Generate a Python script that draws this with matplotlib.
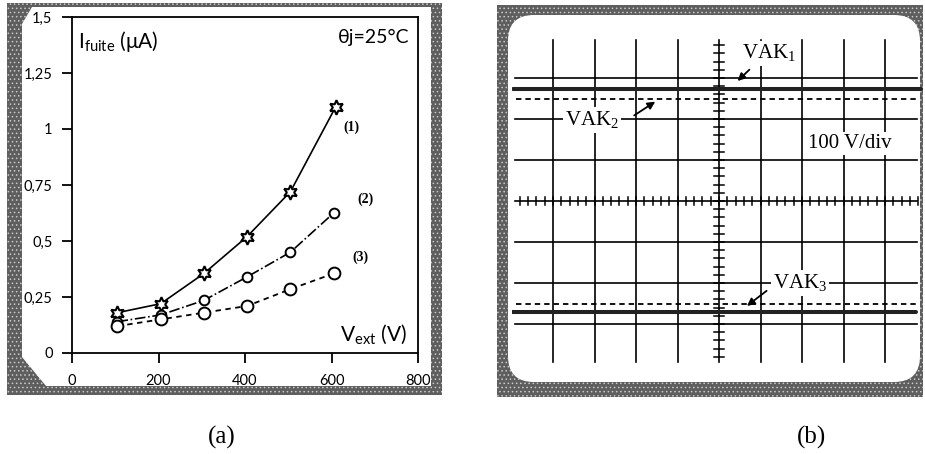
import matplotlib
matplotlib.use('Agg')
import matplotlib.pyplot as plt
from matplotlib.patches import Polygon, FancyBboxPatch, Rectangle
import numpy as np

plt.rcParams['mathtext.fontset'] = 'custom'
plt.rcParams['mathtext.rm'] = 'Liberation Serif'

# ---- panel (a) data : leakage current vs external voltage ----
v_ext_1 = [105, 205, 305, 405, 505, 610]
i_fuite_1 = [0.18, 0.22, 0.355, 0.52, 0.72, 1.10]
v_ext_2 = [105, 205, 305, 405, 505, 605]
i_fuite_2 = [0.14, 0.17, 0.235, 0.34, 0.45, 0.625]
v_ext_3 = [105, 205, 305, 405, 505, 605]
i_fuite_3 = [0.12, 0.15, 0.18, 0.21, 0.285, 0.355]
curve_labels = ['(1)', '(2)', '(3)']
x_ticks = [0, 200, 400, 600, 800]
y_ticks = [0, 0.25, 0.5, 0.75, 1, 1.25, 1.5]
y_ticklabels = ['0', '0,25', '0,5', '0,75', '1', '1,25', '1,5']

# ---- panel (b) data : oscilloscope traces (100 V/div) ----
volts_per_div = 100
vak1_level = 273
vak2_level = 248
vak3_dash_level = -252
vak3_level = -270

fig = plt.figure(figsize=(9.25, 4.54), dpi=100)

# background layer in pixel coordinates for the scanned frames
bg = fig.add_axes([0, 0, 1, 1], zorder=0)
bg.set_xlim(0, 925)
bg.set_ylim(454, 0)
bg.axis('off')

plt.rcParams['hatch.linewidth'] = 0.6
frame_gray = '#5e5e5e'
bg.add_patch(Rectangle((7, 3), 435, 392, facecolor=frame_gray, edgecolor='#c8c8c8',
                       hatch='....', lw=0))
bg.add_patch(Polygon([(22, 24), (32, 7), (431, 7), (431, 386), (46, 386), (22, 357)],
                     closed=True, facecolor='white', edgecolor='none'))
bg.add_patch(Rectangle((497, 5), 426, 392, facecolor=frame_gray, edgecolor='#c8c8c8',
                       hatch='....', lw=0))
bg.add_patch(FancyBboxPatch((508, 15), 412, 367, boxstyle='round,pad=0,rounding_size=26',
                            facecolor='white', edgecolor='none'))

# ---------------- panel (a) ----------------
ax = fig.add_axes([72 / 925, 1 - 353 / 454, 346 / 925, 336 / 454], zorder=2)
ax.set_facecolor('none')
ax.plot(v_ext_1, i_fuite_1, color='black', lw=1.2, marker=(6, 1, 0), ms=10.5,
        mfc='white', mec='black', mew=1.5)
ax.plot(v_ext_2, i_fuite_2, color='black', lw=1.2, ls='-.', marker='o', ms=7,
        mfc='white', mec='black', mew=1.4)
ax.plot(v_ext_3, i_fuite_3, color='black', lw=1.3, ls=(0, (3, 2.5)), marker='o', ms=8.5,
        mfc='white', mec='black', mew=1.4)

ax.set_xlim(0, 800)
ax.set_ylim(0, 1.5)
ax.set_xticks(x_ticks)
ax.set_yticks(y_ticks)
ax.set_yticklabels(y_ticklabels)
ax.tick_params(direction='out', length=7, width=1.3, labelsize=10.5)
ax.tick_params(axis='y', pad=7)
ax.tick_params(axis='x', pad=8)
for lab in ax.get_xticklabels() + ax.get_yticklabels():
    lab.set_fontfamily('Lato')
for sp in ax.spines.values():
    sp.set_linewidth(1.3)

ax.text(15, 1.445, r'I$_{\mathregular{fuite}}$ (μA)', fontsize=15, family='Lato', va='top')
ax.text(780, 1.445, 'θj=25°C', fontsize=14, family='Lato', va='top', ha='right')
ax.text(775, 0.05, r'V$_{\mathregular{ext}}$ (V)', fontsize=15, family='Lato', ha='right')
label_pos = [(628, 0.99), (660, 0.67), (648, 0.41)]
for (lx, ly), lab in zip(label_pos, curve_labels):
    ax.text(lx, ly, lab, fontsize=10, family='Liberation Serif', weight='bold')

# ---------------- panel (b) ----------------
bx = fig.add_axes([511.5 / 925, 1 - 365 / 454, 415 / 925, 328 / 454], zorder=2)
bx.set_facecolor('none')
bx.set_xlim(0, 10)
bx.set_ylim(-4, 4)
bx.axis('off')

grid_kw = dict(color='black', lw=1.2, zorder=1)
for gx in range(1, 10):
    bx.plot([gx, gx], [-3.93, 3.93], **grid_kw)
for gy in range(-3, 4):
    bx.plot([0.08, 9.77], [gy, gy], **grid_kw)
# graduated centre axes
for t in np.arange(-3.8, 3.9, 0.2):
    bx.plot([4.87, 5.13], [t, t], color='black', lw=1.1, zorder=1)
for t in np.arange(0.2, 9.8, 0.2):
    bx.plot([t, t], [-0.1, 0.1], color='black', lw=1.1, zorder=1)

# traces
bx.plot([0.04, 9.87], [vak1_level / volts_per_div] * 2, color='#222222', lw=2.9,
        solid_capstyle='round', zorder=3)
bx.plot([0.1, 9.75], [vak2_level / volts_per_div] * 2, color='black', lw=1.3,
        ls=(0, (3, 2.2)), zorder=3)
bx.plot([0.1, 9.75], [vak3_dash_level / volts_per_div] * 2, color='black', lw=1.3,
        ls=(0, (3, 2.2)), zorder=3)
bx.plot([-0.08, 9.75], [vak3_level / volts_per_div] * 2, color='#222222', lw=2.9,
        solid_capstyle='round', zorder=3)

box = dict(facecolor='white', edgecolor='none', pad=1.5)
txt_kw = dict(fontsize=15, family='Liberation Serif', va='center', zorder=4, bbox=box)
bx.text(5.55, 3.6, r'VAK$_{\mathregular{1}}$', **txt_kw)
bx.text(1.3, 1.98, r'VAK$_{\mathregular{2}}$', **txt_kw)
bx.text(6.3, -2.0, r'VAK$_{\mathregular{3}}$', **txt_kw)
bx.text(7.14, 1.41, '100 V/div', **txt_kw)

arrow_kw = dict(arrowstyle='-|>', color='black', lw=1.3, mutation_scale=11)
bx.annotate('', xy=(5.4, vak1_level / volts_per_div + 0.15), xytext=(5.78, 3.25),
            arrowprops=arrow_kw, zorder=5)
bx.annotate('', xy=(3.52, vak2_level / volts_per_div - 0.02), xytext=(2.9, 2.05),
            arrowprops=arrow_kw, zorder=5)
bx.annotate('', xy=(5.62, vak3_dash_level / volts_per_div - 0.08), xytext=(6.2, -2.15),
            arrowprops=arrow_kw, zorder=5)

# captions
fig.text(222 / 925, 1 - 437 / 454, '(a)', fontsize=18, family='Liberation Serif',
         ha='center', va='center')
fig.text(812 / 925, 1 - 437 / 454, '(b)', fontsize=18, family='Liberation Serif',
         ha='center', va='center')

fig.savefig('out.png', dpi=100)
